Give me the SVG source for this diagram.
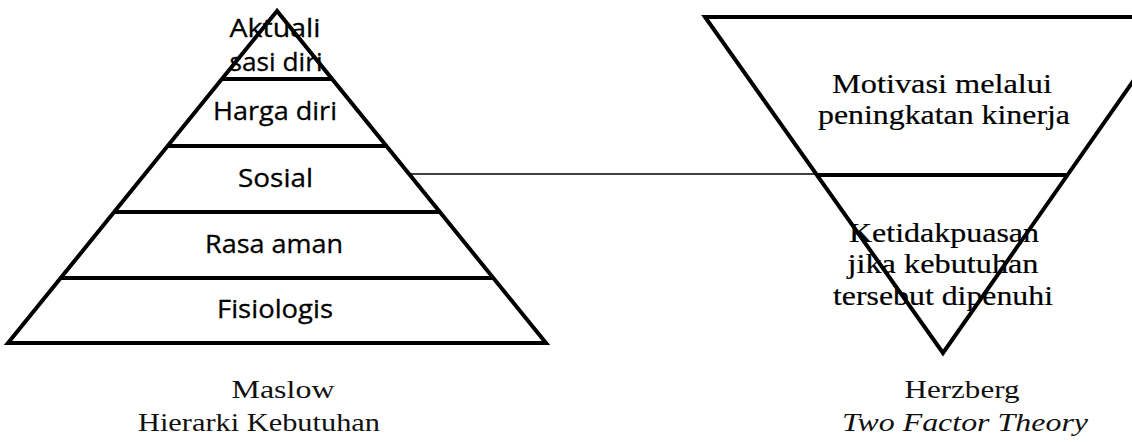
<svg xmlns="http://www.w3.org/2000/svg" width="1132" height="442" viewBox="0 0 1132 442">
<style>
.shape{fill:none;stroke:#000;stroke-width:4;stroke-linejoin:miter;stroke-miterlimit:20}
.band{stroke:#000;stroke-width:4;fill:none}
.thin{stroke:#000;stroke-width:1.6;fill:none}
.sans{font-family:"Open Sans","Noto Sans",sans-serif;font-size:26px;fill:#000;text-anchor:middle;stroke:#000;stroke-width:0.3}
.serif{font-family:"Liberation Serif","Times New Roman",serif;font-size:27px;fill:#000;text-anchor:middle;stroke:#000;stroke-width:0.2}
.cap{font-family:"Liberation Serif","Times New Roman",serif;font-size:25px;fill:#111;text-anchor:middle}
.it{font-style:italic}
</style>
<rect width="1132" height="442" fill="#fff"/>

<g id="maslow-pyramid">
  <polygon class="shape" points="277,11 8,343 546,343"/>
  <line class="band" x1="222" y1="79" x2="332" y2="79"/>
  <line class="band" x1="168" y1="146" x2="386" y2="146"/>
  <line class="band" x1="114" y1="212" x2="440" y2="212"/>
  <line class="band" x1="61" y1="278" x2="493" y2="278"/>
</g>
<g id="level-aktualisasi">
  <text class="sans" transform="translate(275,37) scale(1.08,1)" textLength="84.3" lengthAdjust="spacingAndGlyphs">Aktuali</text>
  <text class="sans" transform="translate(276,71) scale(1.08,1)" textLength="86.1" lengthAdjust="spacingAndGlyphs">sasi diri</text>
</g>
<g id="level-harga-diri">
  <text class="sans" transform="translate(275,120) scale(1.08,1)" textLength="114.8" lengthAdjust="spacingAndGlyphs">Harga diri</text>
</g>
<g id="level-sosial">
  <text class="sans" transform="translate(275.5,187) scale(1.08,1)" textLength="69.4" lengthAdjust="spacingAndGlyphs">Sosial</text>
</g>
<g id="level-rasa-aman">
  <text class="sans" transform="translate(274,253) scale(1.08,1)" textLength="127.8" lengthAdjust="spacingAndGlyphs">Rasa aman</text>
</g>
<g id="level-fisiologis">
  <text class="sans" transform="translate(275,318) scale(1.08,1)" textLength="107.4" lengthAdjust="spacingAndGlyphs">Fisiologis</text>
</g>
<g id="maslow-caption">
  <text class="cap" transform="translate(283,398) scale(1.25,1)" textLength="82.4" lengthAdjust="spacingAndGlyphs">Maslow</text>
  <text class="cap" transform="translate(259,431) scale(1.25,1)" textLength="193.6" lengthAdjust="spacingAndGlyphs">Hierarki Kebutuhan</text>
</g>

<g id="herzberg-triangle">
  <polyline class="shape" points="1132,17 705,17 943,353 1178,17"/>
  <line class="band" x1="818" y1="175" x2="1066" y2="175"/>
</g>
<g id="factor-motivasi">
  <text class="serif" transform="translate(942,93) scale(1.25,1)" textLength="176" lengthAdjust="spacingAndGlyphs">Motivasi melalui</text>
  <text class="serif" transform="translate(944,124) scale(1.25,1)" textLength="201.6" lengthAdjust="spacingAndGlyphs">peningkatan kinerja</text>
</g>
<g id="factor-ketidakpuasan">
  <text class="serif" transform="translate(944,242) scale(1.25,1)" textLength="152" lengthAdjust="spacingAndGlyphs">Ketidakpuasan</text>
  <text class="serif" transform="translate(943,273) scale(1.25,1)" textLength="152.8" lengthAdjust="spacingAndGlyphs">jika kebutuhan</text>
  <text class="serif" transform="translate(943,305) scale(1.25,1)" textLength="176" lengthAdjust="spacingAndGlyphs">tersebut dipenuhi</text>
</g>
<g id="herzberg-caption">
  <text class="cap" transform="translate(962,398) scale(1.25,1)" textLength="92" lengthAdjust="spacingAndGlyphs">Herzberg</text>
  <text class="cap it" transform="translate(965,431) scale(1.25,1)" textLength="196.8" lengthAdjust="spacingAndGlyphs">Two Factor Theory</text>
</g>

<g id="connectors">
  <line class="thin" x1="409" y1="174" x2="820" y2="174"/>
</g>
</svg>
